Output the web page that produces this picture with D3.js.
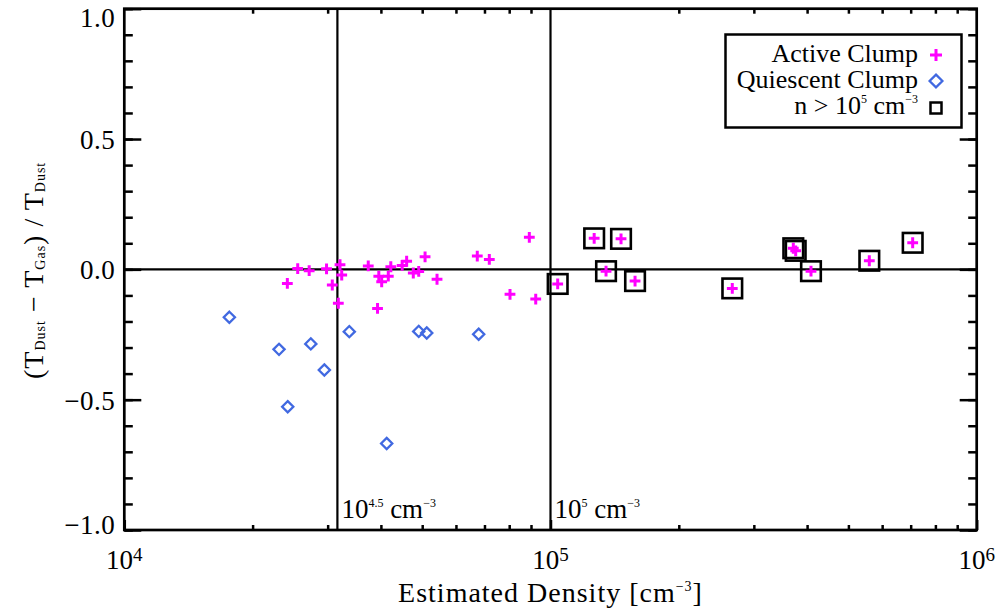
<!DOCTYPE html>
<html>
<head>
<meta charset="utf-8">
<script src="https://cdn.jsdelivr.net/npm/d3@7"></script>
<style>
  body { margin: 0; background: #fff; }
  svg { display: block; }
  text { font-family: 'Liberation Serif', 'Times New Roman', serif; }
</style>
</head>
<body>
<div id="chart"></div>
<script>
// active clumps: density [cm^-3] and (Tdust - Tgas) / Tdust
const activeDensity = [
  24130, 25520, 27150, 29820, 30760, 32070, 32370, 31780, 37360, 39550,
  40170, 41630, 42200, 44870, 45970, 47650, 49070, 50780, 54170, 39280,
  67330, 71850, 89190, 80350, 92330, 103960, 126610, 146380, 134990, 157900,
  267010, 371270, 376090, 408500, 559800, 707600
]
const activeRatio = [
  -0.054, 0.003, -0.005, 0.002, -0.060, 0.018, -0.022, -0.130, 0.013, -0.026,
  -0.048, -0.026, 0.010, 0.015, 0.031, -0.014, -0.008, 0.048, -0.038, -0.150,
  0.051, 0.038, 0.123, -0.096, -0.114, -0.056, 0.119, 0.117, -0.007, -0.045,
  -0.073, 0.081, 0.071, -0.007, 0.033, 0.102
]
// quiescent clumps
const quiescentDensity = [17640, 23070, 24180, 27390, 29470, 33720, 41270, 49070, 51240, 67840]
const quiescentRatio = [-0.184, -0.307, -0.527, -0.286, -0.386, -0.239, -0.668, -0.238, -0.244, -0.249]

const denseLimit = 1e5
const guideDensity = [Math.pow(10, 4.5), 1e5]
const xMajor = [1e4, 1e5, 1e6]
const yMajor = [-1, -0.5, 0, 0.5, 1]
const yMinor = d3.range(-10, 11).map(d => d / 10)

const width = 1002
const height = 613
const marginLeft = 124.3
const marginRight = 25.3
const marginTop = 8.7
const marginBottom = 83

const magenta = '#ff00ff'
const blue = '#4169e1'
const serif = "'Liberation Serif', 'Times New Roman', serif"
const fs = 27

const x = d3.scaleLog().domain([1e4, 1e6]).range([marginLeft, width - marginRight])
const y = d3.scaleLinear().domain([-1, 1]).range([height - marginBottom, marginTop])

const xMinor = []
for (let p = 4; p < 6; p++) for (let m = 2; m < 10; m++) xMinor.push(m * Math.pow(10, p))

const svg = d3.select('#chart').append('svg')
  .attr('width', width)
  .attr('height', height)
  .attr('viewBox', [0, 0, width, height])
  .attr('font-family', serif)

// rich text helper: parts are [text, size, shift] with shift measured up from baseline
const rich = (sel, parts) => {
  let cur = 0
  sel.attr('font-family', serif)
  parts.forEach(([t, s, up]) => {
    const sh = up || 0
    sel.append('tspan')
      .attr('font-size', s)
      .attr('dy', cur - sh)
      .text(t)
    cur = sh
  })
}

const tidy = g => {
  g.selectAll('.domain').remove()
  g.selectAll('.tick line').attr('stroke', '#000').attr('stroke-width', 2.5)
}

// minor and major ticks, pointing inward, on all four sides
const xb = y.range()[0]
const xt = y.range()[1]
svg.append('g').attr('transform', `translate(0,${xb})`)
  .call(d3.axisBottom(x).tickValues(xMinor).tickSize(-5).tickFormat(''))
  .call(tidy)
svg.append('g').attr('transform', `translate(0,${xt})`)
  .call(d3.axisTop(x).tickValues(xMinor).tickSize(-5).tickFormat(''))
  .call(tidy)
svg.append('g').attr('transform', `translate(0,${xb})`)
  .call(d3.axisBottom(x).tickValues(xMajor).tickSize(-10).tickFormat(''))
  .call(tidy)

const yl = x.range()[0]
const yr = x.range()[1]
svg.append('g').attr('transform', `translate(${yl},0)`)
  .call(d3.axisLeft(y).tickValues(yMinor).tickSize(-8.5).tickFormat(''))
  .call(tidy)
svg.append('g').attr('transform', `translate(${yr},0)`)
  .call(d3.axisRight(y).tickValues(yMinor).tickSize(-8.5).tickFormat(''))
  .call(tidy)
svg.append('g').attr('transform', `translate(${yl},0)`)
  .call(d3.axisLeft(y).tickValues(yMajor).tickSize(-17).tickFormat(''))
  .call(tidy)
svg.append('g').attr('transform', `translate(${yr},0)`)
  .call(d3.axisRight(y).tickValues(yMajor).tickSize(-17).tickFormat(''))
  .call(tidy)

// y tick labels (end labels kept inside the picture, as in the original)
const fmt = d3.format('.1f')
svg.append('g')
  .selectAll('text')
  .data(yMajor)
  .join('text')
  .attr('x', yl - 9)
  .attr('y', d => Math.min(Math.max(y(d) + 10, 27), 534))
  .attr('text-anchor', 'end')
  .attr('font-family', serif)
  .attr('font-size', fs)
  .attr('letter-spacing', 0.5)
  .text(d => fmt(d))

// x tick labels 10^n
svg.append('g')
  .selectAll('text')
  .data(xMajor)
  .join('text')
  .attr('x', d => x(d))
  .attr('y', xb + 39)
  .attr('text-anchor', 'middle')
  .each(function (d) {
    rich(d3.select(this), [['10', fs], [String(Math.round(Math.log10(d))), 19, 8]])
  })

// guide lines
svg.append('g')
  .selectAll('line')
  .data(guideDensity)
  .join('line')
  .attr('x1', d => x(d))
  .attr('x2', d => x(d))
  .attr('y1', xt)
  .attr('y2', xb)
  .attr('stroke', '#000')
  .attr('stroke-width', 2.2)

svg.append('line')
  .attr('x1', yl)
  .attr('x2', yr)
  .attr('y1', y(0))
  .attr('y2', y(0))
  .attr('stroke', '#000')
  .attr('stroke-width', 2.2)

// guide annotations
const guideLabels = [['10', '4.5'], ['10', '5']]
svg.append('g')
  .selectAll('text')
  .data(guideDensity)
  .join('text')
  .attr('x', d => x(d) + 4)
  .attr('y', xb - 12)
  .each(function (d, i) {
    rich(d3.select(this), [
      [guideLabels[i][0], fs], [guideLabels[i][1], 12, 11],
      [' cm', fs], ['\u22123', 12, 11]
    ])
  })

// frame
svg.append('rect')
  .attr('x', yl)
  .attr('y', xt)
  .attr('width', yr - yl)
  .attr('height', xb - xt)
  .attr('fill', 'none')
  .attr('stroke', '#000')
  .attr('stroke-width', 2.7)

const plus = s => `M${-s},0H${s}M0,${-s}V${s}`
const diamond = s => `M0,${-s}L${s},0L0,${s}L${-s},0Z`

// quiescent clumps
svg.append('g')
  .selectAll('path')
  .data(d3.range(quiescentDensity.length))
  .join('path')
  .attr('transform', i => `translate(${x(quiescentDensity[i])},${y(quiescentRatio[i])})`)
  .attr('d', diamond(5.6))
  .attr('fill', 'none')
  .attr('stroke', blue)
  .attr('stroke-width', 2.3)

// active clumps
svg.append('g')
  .selectAll('path')
  .data(d3.range(activeDensity.length))
  .join('path')
  .attr('transform', i => `translate(${x(activeDensity[i])},${y(activeRatio[i])})`)
  .attr('d', plus(5.4))
  .attr('fill', 'none')
  .attr('stroke', magenta)
  .attr('stroke-width', 3)

// boxes round the dense clumps
const dense = d3.range(activeDensity.length).filter(i => activeDensity[i] > denseLimit)
svg.append('g')
  .selectAll('rect')
  .data(dense)
  .join('rect')
  .attr('x', i => x(activeDensity[i]) - 9.8)
  .attr('y', i => y(activeRatio[i]) - 9.8)
  .attr('width', 19.6)
  .attr('height', 19.6)
  .attr('fill', 'none')
  .attr('stroke', '#000')
  .attr('stroke-width', 2.6)

// legend
const legend = svg.append('g')
legend.append('rect')
  .attr('x', 725.5)
  .attr('y', 34.5)
  .attr('width', 236)
  .attr('height', 93)
  .attr('fill', '#fff')
  .attr('stroke', '#000')
  .attr('stroke-width', 2.5)

const legendRows = [
  [['Active Clump', 26]],
  [['Quiescent Clump', 26]],
  [['n > 10', 26], ['5', 12, 11], [' cm', 26], ['\u22123', 12, 11]]
]
legend.selectAll('text')
  .data(legendRows)
  .join('text')
  .attr('x', 918)
  .attr('y', (d, i) => 62 + i * 26)
  .attr('text-anchor', 'end')
  .each(function (d) { rich(d3.select(this), d) })

legend.append('path')
  .attr('transform', 'translate(936,55)')
  .attr('d', plus(6))
  .attr('stroke', magenta)
  .attr('stroke-width', 3)
legend.append('path')
  .attr('transform', 'translate(936,81)')
  .attr('d', diamond(6.4))
  .attr('fill', 'none')
  .attr('stroke', blue)
  .attr('stroke-width', 2.3)
legend.append('rect')
  .attr('x', 930.5)
  .attr('y', 102.5)
  .attr('width', 11)
  .attr('height', 11)
  .attr('fill', 'none')
  .attr('stroke', '#000')
  .attr('stroke-width', 2.5)

// axis titles
svg.append('text')
  .attr('x', (yl + yr) / 2)
  .attr('y', 602)
  .attr('text-anchor', 'middle')
  .attr('letter-spacing', 1)
  .call(t => rich(t, [['Estimated Density [cm', 28], ['\u22123', 14, 11], [']', 28]]))

svg.append('text')
  .attr('transform', `translate(43,${y(0) + 1}) rotate(-90)`)
  .attr('text-anchor', 'middle')
  .attr('letter-spacing', 1)
  .call(t => rich(t, [
    ['(T', 28], ['Dust', 14, -2], [' \u2212 T', 28], ['Gas', 14, -2],
    [') / T', 28], ['Dust', 14, -2]
  ]))
</script>
</body>
</html>
